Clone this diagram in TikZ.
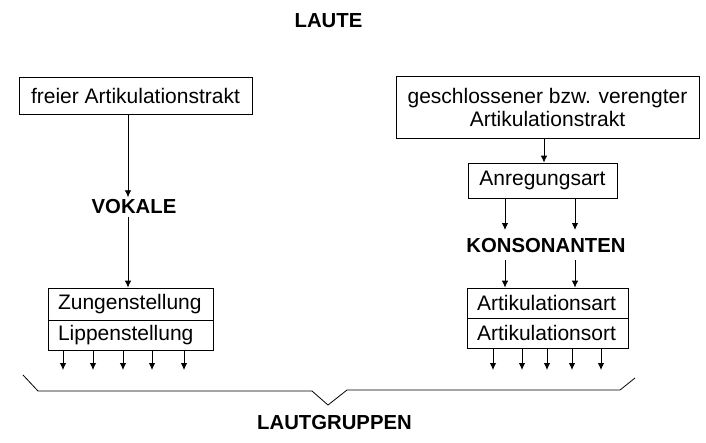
\documentclass[tikz,border=0pt]{standalone}
\usepackage{fontspec}
\setmainfont{Liberation Sans}
\usetikzlibrary{arrows.meta}

\tikzset{
  box/.style={draw, line width=0.8pt, inner sep=0pt, align=center,
    font=\fontsize{21}{23}\selectfont},
  part/.style={box, align=left, inner xsep=10pt},
  title/.style={font=\fontsize{20.3}{24}\selectfont\bfseries},
  arr/.style={line width=0.8pt, -{Latex[length=7pt,width=6.5pt]}}
}

\begin{document}
\begin{tikzpicture}[x=1pt, y=-1pt]
	\useasboundingbox (0,0) rectangle (706,442);
	\node[title] (laute) at (328.5,21) {LAUTE};
	
	% Vokale
	\node[box, minimum width=233pt, minimum height=37pt] (frei) at (135.5,95.5) {freier Artikulationstrakt};
	\node[title] (vokale) at (134,207) {VOKALE};
	\node[part, text width=145pt, minimum height=32pt] (zunge) at (130.5,304) {Zungenstellung};
	\node[part, text width=145pt, minimum height=30pt] (lippe) at (130.5,335) {Lippenstellung};
	\draw[arr] ([xshift=-7.5pt]frei.south) -- ([xshift=-6pt,yshift=-1pt]vokale.north);
	\draw[arr] ([xshift=-6pt,yshift=1pt]vokale.south) -- ([xshift=-2.5pt]zunge.north);
	\foreach \x in {63,93,123,152,184}
		\draw[arr] (lippe.south -| \x,0) -- (\x,370);
	
	% Konsonanten
	\node[box, minimum width=303pt, minimum height=62pt] (geschl) at (547.5,107) {geschlossener bzw. verengter\\Artikulationstrakt};
	\node[box, minimum width=149pt, minimum height=35pt] (anreg) at (542.5,180.5) {Anregungsart};
	\node[title] (kons) at (546,246) {KONSONANTEN};
	\node[part, text width=141pt, minimum height=30pt] (art) at (547.5,303) {Artikulationsart};
	\node[part, text width=141pt, minimum height=30pt] (ort) at (547.5,333) {Artikulationsort};
	\draw[arr] ([xshift=-3.5pt]geschl.south) -- ([xshift=1.5pt]anreg.north);
	\foreach \x in {505,575} {
		\draw[arr] (anreg.south -| \x,0) -- (\x,230);
		\draw[arr] (\x,260) -- (art.north -| \x,0);
	}
	\foreach \x in {493,522,547,572,601}
		\draw[arr] (ort.south -| \x,0) -- (\x,370);
	
	% Klammer
	\draw[line width=0.8pt] (23,375) -- (38,391) -- (312,391) -- (328,405) -- (347,390) -- (620,390) -- (635,378);
	\node[title] (gruppen) at (334.5,423) {LAUTGRUPPEN};
\end{tikzpicture}
\end{document}
